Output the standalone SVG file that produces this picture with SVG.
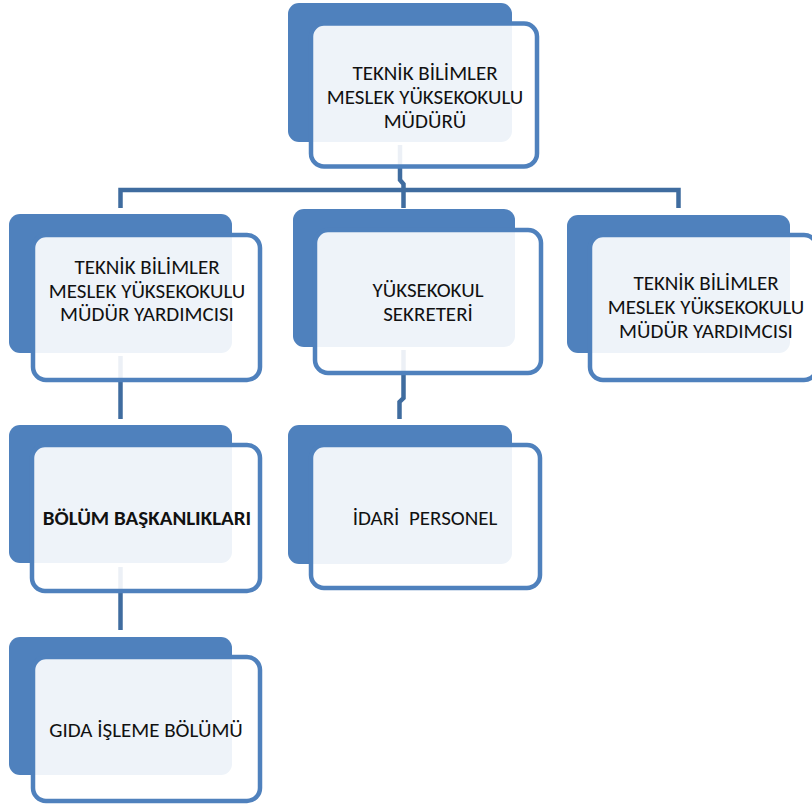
<svg xmlns="http://www.w3.org/2000/svg" width="812" height="805" viewBox="0 0 812 805">
<style>
.back{fill:#4F81BD;}
.front{fill:#FFFFFF;fill-opacity:0.9;stroke:#4F81BD;stroke-width:4.5;}
.conn{fill:none;stroke:#3F6C9F;stroke-width:4.5;}
.t{font-family:Calibri,Carlito,"Liberation Sans",Arial,sans-serif;font-size:21px;fill:#111111;text-anchor:middle;}
.b{font-weight:bold;}
</style>
<rect width="812" height="805" fill="#FFFFFF"/>
<g id="connectors">
<path class="conn" d="M400,145 V180 L403.5,184 V208"/>
<path class="conn" d="M120.5,208 V190 H678.5 V208"/>
<path class="conn" d="M120.5,356 V419"/>
<path class="conn" d="M120.5,567 V630"/>
<path class="conn" d="M403.5,350 V398 L399.5,402 V419"/>
</g>
<g id="node-mudur">
<rect class="back" x="288" y="3" width="224" height="139" rx="11"/>
<rect class="front" x="311" y="23.5" width="226" height="143" rx="13"/>
<text class="t" x="425" y="80">TEKNİK BİLİMLER</text>
<text class="t" x="425" y="104">MESLEK YÜKSEKOKULU</text>
<text class="t" x="425" y="128">MÜDÜRÜ</text>
</g>
<g id="node-yardimci-1">
<rect class="back" x="9" y="214" width="223" height="139" rx="11"/>
<rect class="front" x="33" y="235" width="227" height="145" rx="13"/>
<text class="t" x="147" y="273.5">TEKNİK BİLİMLER</text>
<text class="t" x="147" y="297.5">MESLEK YÜKSEKOKULU</text>
<text class="t" x="147" y="321">MÜDÜR YARDIMCISI</text>
</g>
<g id="node-sekreter">
<rect class="back" x="293" y="209" width="222" height="138" rx="11"/>
<rect class="front" x="315" y="230" width="226" height="143" rx="13"/>
<text class="t" x="428" y="297">YÜKSEKOKUL</text>
<text class="t" x="428" y="321">SEKRETERİ</text>
</g>
<g id="node-yardimci-2">
<rect class="back" x="567" y="215" width="223" height="138" rx="11"/>
<rect class="front" x="590" y="235" width="227" height="145" rx="13"/>
<text class="t" x="706" y="290">TEKNİK BİLİMLER</text>
<text class="t" x="706" y="314">MESLEK YÜKSEKOKULU</text>
<text class="t" x="706" y="337.5">MÜDÜR YARDIMCISI</text>
</g>
<g id="node-bolum-baskanliklari">
<rect class="back" x="9" y="425" width="223" height="138" rx="11"/>
<rect class="front" x="32" y="445" width="228" height="146" rx="13"/>
<text class="t b" x="147" y="525">BÖLÜM BAŞKANLIKLARI</text>
</g>
<g id="node-idari-personel">
<rect class="back" x="288" y="425" width="224" height="139" rx="11"/>
<rect class="front" x="311" y="445" width="229" height="143" rx="13"/>
<text class="t" x="425" y="525">İDARİ&#160; PERSONEL</text>
</g>
<g id="node-gida">
<rect class="back" x="9" y="637" width="223" height="138" rx="11"/>
<rect class="front" x="33" y="657" width="227" height="144" rx="13"/>
<text class="t" x="146" y="737">GIDA İŞLEME BÖLÜMÜ</text>
</g>
</svg>
